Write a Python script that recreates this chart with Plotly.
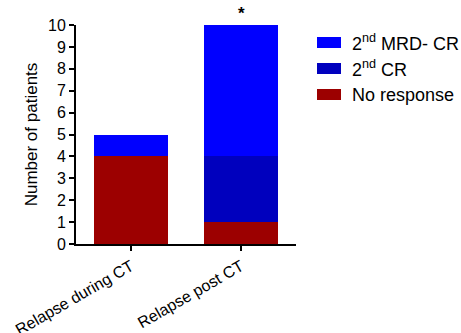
import plotly.graph_objects as go

categories = ["Relapse during CT", "Relapse post CT"]
no_response = [4, 1]
second_cr = [0, 3]
second_mrd_cr = [1, 6]
y_ticks = list(range(0, 11))

series_names = ["No response", "2<sup>nd</sup> CR", "2<sup>nd</sup> MRD- CR"]
series_values = [no_response, second_cr, second_mrd_cr]
series_colors = ["#9C0000", "#0000BE", "#0000FF"]

font_family = "Liberation Sans, Arial, sans-serif"

W, H = 461, 333
L, T = 76, 25
pw, ph = 220, 219
R, B = W - L - pw, H - T - ph

def px2x(px):
    return (px - L) / pw
def py2y(py):
    return (H - B - py) / ph

fig = go.Figure()
for name, vals, col in zip(series_names, series_values, series_colors):
    fig.add_trace(go.Bar(x=categories, y=vals, name=name, showlegend=False,
                         marker=dict(color=col, line=dict(width=0)), width=0.67))

fig.add_annotation(x=categories[1], y=10, yref="y", text="<b>*</b>", showarrow=False,
                   yanchor="bottom", yshift=0, font=dict(size=17, color="black"))

# manual legend (top to bottom: reversed stacking order)
row_centers = [42.5, 68.5, 94.5]
for i, idx in enumerate([2, 1, 0]):
    cy = row_centers[i]
    fig.add_shape(type="rect", xref="paper", yref="paper",
                  x0=px2x(317), x1=px2x(341), y0=py2y(cy + 5.5), y1=py2y(cy - 5.5),
                  fillcolor=series_colors[idx], line=dict(width=0), layer="above")
    fig.add_annotation(xref="paper", yref="paper", x=px2x(350), y=py2y(cy),
                       xanchor="left", yanchor="middle", showarrow=False,
                       text=series_names[idx], font=dict(size=18, color="black"))

fig.update_layout(
    barmode="stack",
    width=W, height=H,
    margin=dict(l=L, r=R, t=T, b=B),
    paper_bgcolor="white", plot_bgcolor="white",
    font=dict(family=font_family, size=16, color="black"),
    showlegend=False,
    xaxis=dict(range=[-0.5, 1.5], showline=True, linecolor="black", linewidth=2,
               ticks="outside", ticklen=5, tickwidth=2, tickcolor="black",
               tickangle=-30, showgrid=False, zeroline=False, automargin=False,
               tickfont=dict(size=16)),
    yaxis=dict(range=[0, 10], tickvals=y_ticks, showline=True, linecolor="black",
               linewidth=2, ticks="outside", ticklen=5, tickwidth=2, tickcolor="black",
               showgrid=False, zeroline=False, automargin=False,
               tickfont=dict(size=16),
               title=dict(text="Number of patients", standoff=6, font=dict(size=17))),
)

# remove the browser's default page margin so the figure fills the window
fig.write_html("out.html",
               config={"displayModeBar": False},
               post_script="document.body.style.margin='0';document.body.style.overflow='hidden';")
